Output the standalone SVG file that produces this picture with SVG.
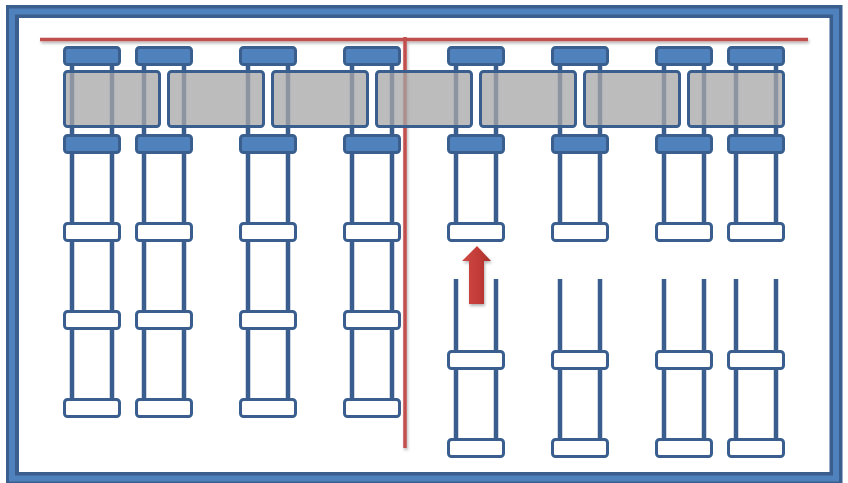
<svg xmlns="http://www.w3.org/2000/svg" width="848" height="483" viewBox="0 0 848 483">
<defs>
<style>
.leg{stroke:#3A5F8F;stroke-width:4.5;fill:none}
.legg{stroke:#8B94A0;stroke-width:4.5;fill:none}
.capb{fill:#4F81BD;stroke:#3A5F8F;stroke-width:3}
.capw{fill:#FFFFFF;stroke:#3A5F8F;stroke-width:3}
.blk{fill:#A6A6A6;fill-opacity:0.75;stroke:#3A5F8F;stroke-width:3}
.red{stroke:#C0504D;stroke-width:3.5;fill:none}
</style>
<filter id="sh" x="-10%" y="-50%" width="120%" height="200%">
<feDropShadow dx="1" dy="2" stdDeviation="1.5" flood-color="#000" flood-opacity="0.3"/>
</filter>
<linearGradient id="ag" x1="0" y1="0" x2="1" y2="0">
<stop offset="0" stop-color="#D24A46"/>
<stop offset="0.6" stop-color="#C03A36"/>
<stop offset="1" stop-color="#A52D2A"/>
</linearGradient>
<g id="capTop"><rect class="capb" x="1.5" y="1.5" width="55" height="17" rx="3"/></g>
<g id="capWhite"><rect class="capw" x="1.5" y="1.5" width="55" height="17" rx="3"/></g>
</defs>

<rect x="0" y="0" width="848" height="483" fill="#FFFFFF"/>

<g id="frame">
<rect x="12.5" y="11.5" width="823.5" height="467" fill="none" stroke="#3A5F8F" stroke-width="13"/>
<rect x="12" y="11.5" width="824" height="467" fill="none" stroke="#4F81BD" stroke-width="6"/>
</g>

<g id="guides" filter="url(#sh)">
<line class="red" x1="40" y1="39.5" x2="808" y2="39.5"/>
<line class="red" x1="405" y1="37" x2="405" y2="448"/>
</g>

<g id="blocks">
<rect class="blk" x="64.5" y="71.5" width="95" height="55" rx="3"/>
<rect class="blk" x="168.5" y="71.5" width="95" height="55" rx="3"/>
<rect class="blk" x="272.5" y="71.5" width="95" height="55" rx="3"/>
<rect class="blk" x="376.5" y="71.5" width="95" height="55" rx="3"/>
<rect class="blk" x="480.5" y="71.5" width="95" height="55" rx="3"/>
<rect class="blk" x="584.5" y="71.5" width="95" height="55" rx="3"/>
<rect class="blk" x="688.5" y="71.5" width="95" height="55" rx="3"/>
</g>

<g id="col-1" transform="translate(63,0)">
<path class="leg" d="M9 64V73M49 64V73M9 125V400M49 125V400"/>
<path class="legg" d="M9 73V125M49 73V125"/>
<use href="#capTop" y="46"/><use href="#capTop" y="134"/>
<use href="#capWhite" y="222"/><use href="#capWhite" y="310"/><use href="#capWhite" y="398"/>
</g>
<g id="col-2" transform="translate(135,0)">
<path class="leg" d="M9 64V73M49 64V73M9 125V400M49 125V400"/>
<path class="legg" d="M9 73V125M49 73V125"/>
<use href="#capTop" y="46"/><use href="#capTop" y="134"/>
<use href="#capWhite" y="222"/><use href="#capWhite" y="310"/><use href="#capWhite" y="398"/>
</g>
<g id="col-3" transform="translate(239,0)">
<path class="leg" d="M9 64V73M49 64V73M9 125V400M49 125V400"/>
<path class="legg" d="M9 73V125M49 73V125"/>
<use href="#capTop" y="46"/><use href="#capTop" y="134"/>
<use href="#capWhite" y="222"/><use href="#capWhite" y="310"/><use href="#capWhite" y="398"/>
</g>
<g id="col-4" transform="translate(343,0)">
<path class="leg" d="M9 64V73M49 64V73M9 125V400M49 125V400"/>
<path class="legg" d="M9 73V125M49 73V125"/>
<use href="#capTop" y="46"/><use href="#capTop" y="134"/>
<use href="#capWhite" y="222"/><use href="#capWhite" y="310"/><use href="#capWhite" y="398"/>
</g>
<g id="col-5" transform="translate(447,0)">
<path class="leg" d="M9 64V73M49 64V73M9 125V224M49 125V224M9 279V440M49 279V440"/>
<path class="legg" d="M9 73V125M49 73V125"/>
<use href="#capTop" y="46"/><use href="#capTop" y="134"/>
<use href="#capWhite" y="222"/><use href="#capWhite" y="350"/><use href="#capWhite" y="438"/>
</g>
<g id="col-6" transform="translate(551,0)">
<path class="leg" d="M9 64V73M49 64V73M9 125V224M49 125V224M9 279V440M49 279V440"/>
<path class="legg" d="M9 73V125M49 73V125"/>
<use href="#capTop" y="46"/><use href="#capTop" y="134"/>
<use href="#capWhite" y="222"/><use href="#capWhite" y="350"/><use href="#capWhite" y="438"/>
</g>
<g id="col-7" transform="translate(655,0)">
<path class="leg" d="M9 64V73M49 64V73M9 125V224M49 125V224M9 279V440M49 279V440"/>
<path class="legg" d="M9 73V125M49 73V125"/>
<use href="#capTop" y="46"/><use href="#capTop" y="134"/>
<use href="#capWhite" y="222"/><use href="#capWhite" y="350"/><use href="#capWhite" y="438"/>
</g>
<g id="col-8" transform="translate(727,0)">
<path class="leg" d="M9 64V73M49 64V73M9 125V224M49 125V224M9 279V440M49 279V440"/>
<path class="legg" d="M9 73V125M49 73V125"/>
<use href="#capTop" y="46"/><use href="#capTop" y="134"/>
<use href="#capWhite" y="222"/><use href="#capWhite" y="350"/><use href="#capWhite" y="438"/>
</g>

<g id="connectors">
<polygon points="477,246 491,261 484,261 484,304 469,304 469,261 462,261" fill="url(#ag)" filter="url(#sh)"/>
</g>
</svg>
